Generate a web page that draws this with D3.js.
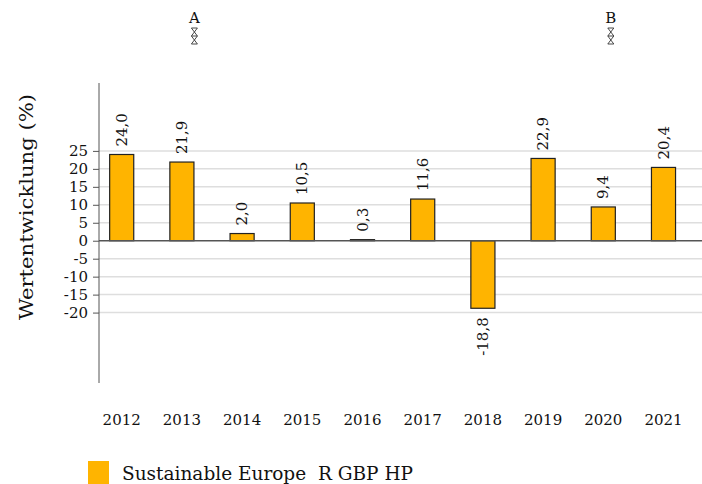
<!DOCTYPE html>
<html>
<head>
<meta charset="utf-8">
<script src="https://cdn.jsdelivr.net/npm/d3@7"></script>
<style>
  body { margin: 0; background: #fff; }
  svg text { font-family: "DejaVu Serif", serif; fill: #111; }
</style>
</head>
<body>
<svg id="chart" width="702" height="484"></svg>
<script>
var years = ["2012", "2013", "2014", "2015", "2016", "2017", "2018", "2019", "2020", "2021"];
var values = [24.0, 21.9, 2.0, 10.5, 0.3, 11.6, -18.8, 22.9, 9.4, 20.4];
var yTicks = [-20, -15, -10, -5, 0, 5, 10, 15, 20, 25];
var markerLabels = ["A", "B"];
var markerYears = ["2013", "2020"];
var seriesName = "Sustainable Europe  R GBP HP";

var data = years.map(function(y, i){ return {year: y, value: values[i]}; });

var svg = d3.select("#chart");

//Scales
var x = d3.scaleBand().domain(years).range([91.6, 693.6]).paddingInner(0.6).paddingOuter(0.3);
var y = d3.scaleLinear().domain([-39.6, 43.9]).range([383, 83]);
var axisX = 99;

//Gridlines
svg.append("g").selectAll("line")
  .data(yTicks.filter(function(d){ return d !== 0; }))
  .enter().append("line")
    .attr("x1", axisX).attr("x2", 702)
    .attr("y1", function(d){ return y(d); })
    .attr("y2", function(d){ return y(d); })
    .style("stroke", "#dedede")
    .style("stroke-width", 1.5);

//Y axis
var yAxis = svg.append("g")
  .attr("transform", "translate(" + axisX + ",0)")
  .call(d3.axisLeft(y).tickValues(yTicks).tickSize(6).tickPadding(5).tickFormat(function(d){ return String(d); }));
yAxis.select(".domain").attr("d", "M0," + y.range()[1] + "V" + y.range()[0]).style("stroke", "#555");
yAxis.selectAll(".tick line").style("stroke", "#555");
yAxis.selectAll(".tick text").style("font-size", "15px").style("font-family", "DejaVu Serif, serif");

svg.append("text")
  .attr("transform", "translate(33," + 207 + ") rotate(-90)")
  .attr("text-anchor", "middle")
  .attr("textLength", 226)
  .attr("lengthAdjust", "spacingAndGlyphs")
  .style("font-size", "18px")
  .text("Wertentwicklung (%)");

//Bars
svg.append("g").selectAll("rect")
  .data(data)
  .enter().append("rect")
    .attr("x", function(d){ return x(d.year); })
    .attr("width", x.bandwidth())
    .attr("y", function(d){ return y(Math.max(0, d.value)); })
    .attr("height", function(d){ return Math.abs(y(d.value) - y(0)); })
    .style("fill", "#ffb400")
    .style("stroke", "#222")
    .style("stroke-width", 1.2);

//Zero line
svg.append("line")
  .attr("x1", axisX).attr("x2", 702)
  .attr("y1", y(0)).attr("y2", y(0))
  .style("stroke", "#555")
  .style("stroke-width", 1.5);

//Value labels
svg.append("g").selectAll("text")
  .data(data)
  .enter().append("text")
    .attr("transform", function(d){
      var cx = x(d.year) + x.bandwidth() / 2 + 5;
      var cy = d.value >= 0 ? y(d.value) - 8 : y(d.value) + 9;
      return "translate(" + cx + "," + cy + ") rotate(-90)";
    })
    .attr("text-anchor", function(d){ return d.value >= 0 ? "start" : "end"; })
    .style("font-size", "15px")
    .text(function(d){ return d.value.toFixed(1).replace(".", ","); });

//Year labels
svg.append("g").selectAll("text")
  .data(years)
  .enter().append("text")
    .attr("x", function(d){ return x(d) + x.bandwidth() / 2; })
    .attr("y", 425)
    .attr("text-anchor", "middle")
    .style("font-size", "15px")
    .text(function(d){ return d; });

//Markers A / B
var markers = svg.append("g").selectAll("g")
  .data(markerLabels)
  .enter().append("g")
    .attr("transform", function(d, i){
      var mx = x(markerYears[i]) + x.bandwidth() / 2 + (i === 0 ? 12.5 : 7.5);
      return "translate(" + mx + ",0)";
    });
markers.append("text")
  .attr("y", 23)
  .attr("text-anchor", "middle")
  .style("font-size", "15px")
  .text(function(d){ return d; });
markers.append("path")
  .attr("d", "M-3,28H3M-3,44H3M-3,28L3,36L-3,44M3,28L-3,36L3,44M-3,36H3")
  .style("fill", "none")
  .style("stroke", "#333")
  .style("stroke-width", 0.9);

//Legend
svg.append("rect")
  .attr("x", 88).attr("y", 461)
  .attr("width", 21).attr("height", 23)
  .style("fill", "#ffb400");
svg.append("text")
  .attr("x", 122).attr("y", 480)
  .attr("xml:space", "preserve")
  .style("white-space", "pre")
  .attr("textLength", 291)
  .attr("lengthAdjust", "spacingAndGlyphs")
  .style("font-size", "18px")
  .text(seriesName);
</script>
</body>
</html>
